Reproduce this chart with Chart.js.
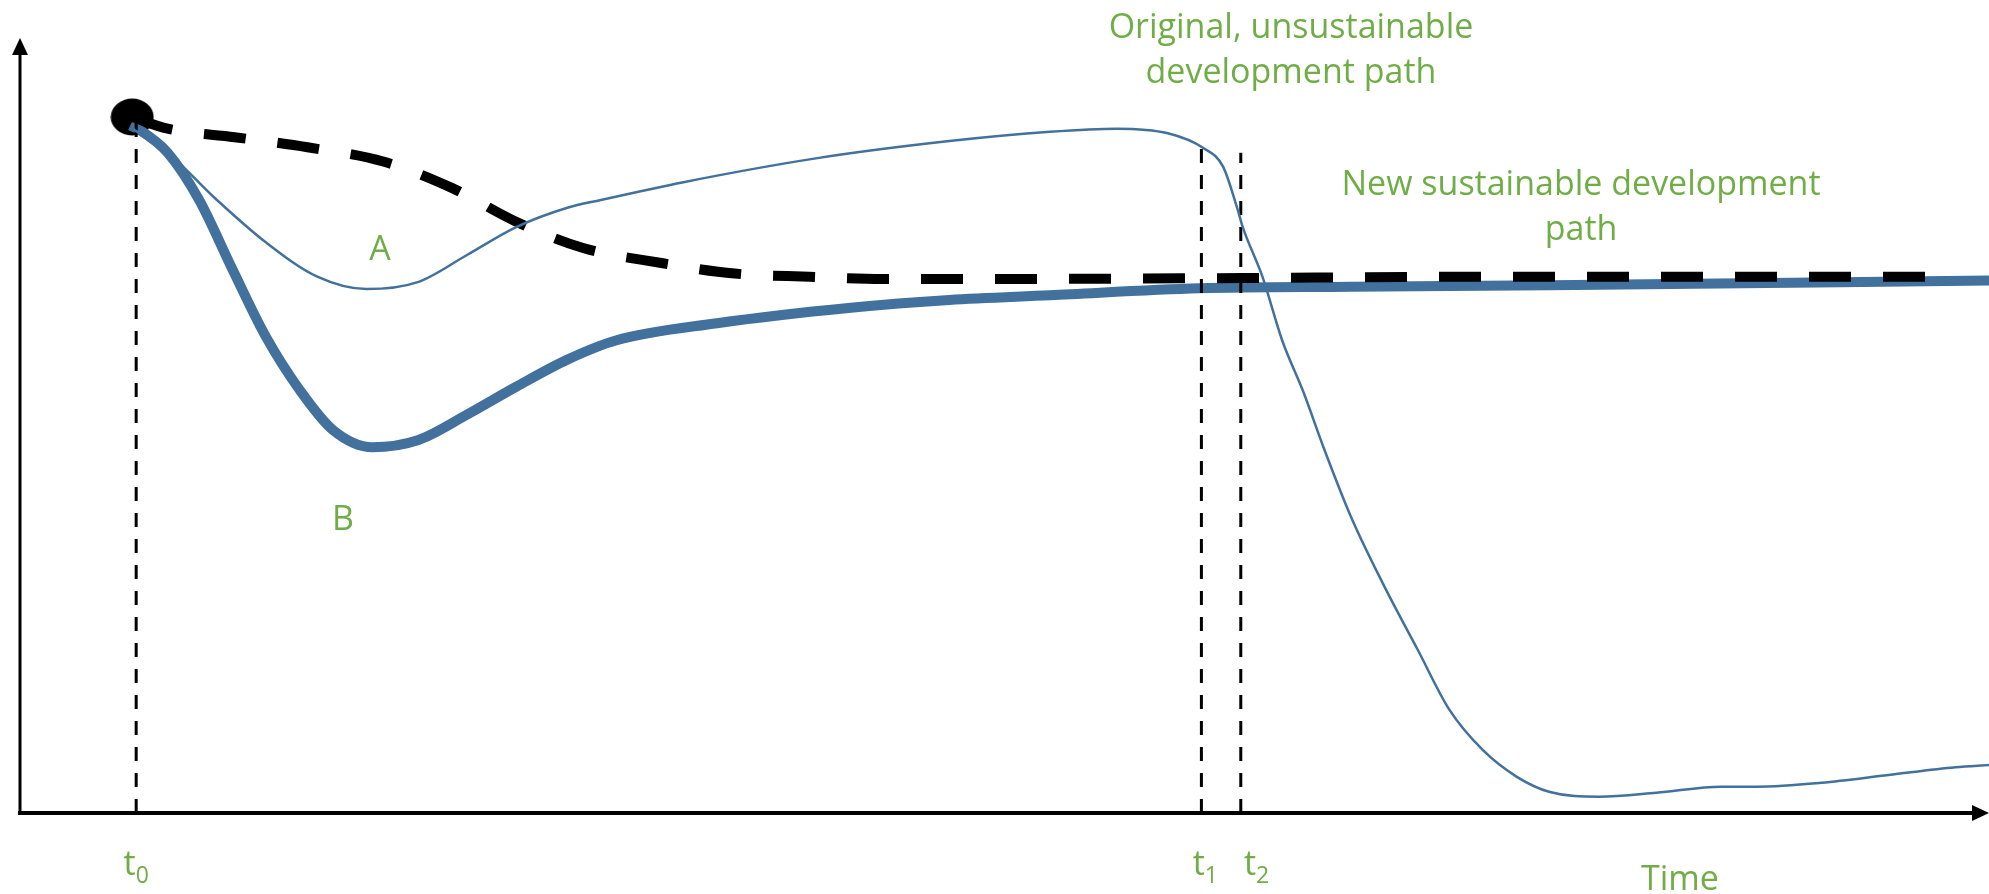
<!DOCTYPE html>
<html>
<head>
<meta charset="utf-8">
<title>Development paths</title>
<script src="https://cdn.jsdelivr.net/npm/chart.js@4.4.1/dist/chart.umd.min.js"></script>
<style>
  html, body { margin: 0; padding: 0; background: #fff; }
  #wrap { width: 1989px; height: 894px; }
</style>
</head>
<body>
<div id="wrap"><canvas id="chart" width="1989" height="894"></canvas></div>
<script>
// time runs 0..100 along the x axis, level 0..100 up the y axis
const startPoint = { x: 5.7, y: 89.8 };

// original, unsustainable path (thin line, A)
const originalX = [5.6, 7.5, 10.0, 12.5, 15.1, 17.6, 20.2, 22.7, 25.2, 27.8, 29.5, 33.7, 40.5, 47.2, 52.3, 55.7, 58.3, 60.1, 61.1, 61.8, 62.1, 63.1, 64.1, 65.2, 66.2, 67.6, 69.2, 71.0, 72.6, 74.3, 76.0, 77.7, 80.2, 83.1, 86.4, 88.2, 91.5, 94.9, 98.3, 100];
const originalY = [88.5, 85.2, 79.1, 73.6, 69.2, 67.6, 68.5, 72.0, 75.6, 78.1, 79.1, 81.4, 84.5, 86.7, 87.9, 88.3, 87.7, 85.8, 83.4, 78.2, 75.6, 69.2, 61.0, 54.2, 47.2, 38.2, 29.7, 21.0, 13.3, 8.1, 4.7, 2.7, 2.1, 2.6, 3.4, 3.4, 3.9, 4.9, 5.9, 6.2];

// new sustainable path (thick line, B)
const newPathX = [5.6, 6.1, 7.5, 9.1, 10.8, 12.5, 14.2, 15.9, 17.9, 20.2, 22.7, 25.2, 27.8, 30.3, 35.4, 42.2, 47.2, 52.3, 59.9, 67.6, 77.7, 100];
const newPathY = [88.7, 88.1, 85.2, 79.1, 70.1, 61.4, 54.6, 49.4, 47.2, 48.1, 51.4, 55.0, 58.5, 61.0, 63.2, 65.2, 66.2, 66.8, 67.7, 67.9, 68.1, 68.7];

// target path (thick dashed)
const targetX = [5.7, 7.5, 10.9, 14.6, 18.4, 21.9, 25.2, 28.6, 32.5, 36.3, 40.1, 43.8, 47.6, 59.9, 75.2, 98.1];
const targetY = [89.8, 88.3, 87.2, 85.9, 84.1, 80.7, 76.3, 72.9, 71.0, 69.6, 69.2, 68.9, 68.9, 69.0, 69.2, 69.2];

// marked moments t0, t1, t2 and how high their guide lines reach
const markTimes = [5.9, 60.0, 62.0];
const markTops = [89.4, 85.8, 85.2];
const markSubs = ['0', '1', '2'];
const markLabelX = [5.9, 60.2, 62.8];

const notes = [['Original, unsustainable', 'development path'], ['New sustainable development', 'path'], ['A'], ['B'], ['Time']];
const noteX = [64.55, 79.28, 18.28, 16.4, 84.3];
const noteY = [100, 79.74, 71.35, 36.5, -9.9];

const pts = (xs, ys) => xs.map((x, i) => ({ x: x, y: ys[i] }));
const green = '#70ad47';
const blue = '#41719c';
const font = '"Open Sans", "DejaVu Sans", sans-serif';

// slightly wide ellipse for the starting point
const dot = document.createElement('canvas');
dot.width = 44; dot.height = 38;
const dctx = dot.getContext('2d');
dctx.fillStyle = '#000';
dctx.beginPath();
dctx.ellipse(22, 19, 21.5, 18.5, 0, 0, Math.PI * 2);
dctx.fill();

const markLines = markTimes.map((t, i) => ({
  data: [{ x: t, y: 0 }, { x: t, y: markTops[i] }],
  borderColor: '#000',
  borderWidth: 3,
  borderDash: [14, 12],
  borderCapStyle: 'butt',
  pointRadius: 0,
  order: 1
}));

const axesAndNotes = {
  id: 'axesAndNotes',
  beforeDatasetsDraw(chart) {
    const { ctx, chartArea: a } = chart;
    ctx.save();
    ctx.fillStyle = '#000';
    ctx.strokeStyle = '#000';
    // y axis with arrow
    ctx.lineWidth = 3;
    ctx.beginPath();
    ctx.moveTo(a.left, a.bottom);
    ctx.lineTo(a.left, a.top + 14);
    ctx.stroke();
    ctx.beginPath();
    ctx.moveTo(a.left, a.top);
    ctx.lineTo(a.left - 8, a.top + 17);
    ctx.lineTo(a.left + 8, a.top + 17);
    ctx.closePath();
    ctx.fill();
    // x axis with arrow
    ctx.lineWidth = 4;
    ctx.beginPath();
    ctx.moveTo(a.left - 2, a.bottom);
    ctx.lineTo(a.right - 14, a.bottom);
    ctx.stroke();
    ctx.beginPath();
    ctx.moveTo(a.right, a.bottom);
    ctx.lineTo(a.right - 17, a.bottom - 8);
    ctx.lineTo(a.right - 17, a.bottom + 8);
    ctx.closePath();
    ctx.fill();
    ctx.restore();
  },
  afterDatasetsDraw(chart) {
    const { ctx } = chart;
    const xs = chart.scales.x, ys = chart.scales.y;
    ctx.save();
    ctx.fillStyle = green;
    ctx.textBaseline = 'alphabetic';
    ctx.textAlign = 'center';
    ctx.font = '34px ' + font;
    notes.forEach((lines, i) => {
      const px = xs.getPixelForValue(noteX[i]);
      const py = ys.getPixelForValue(noteY[i]);
      lines.forEach((line, j) => ctx.fillText(line, px, py + j * 45));
    });
    // t labels with subscripts
    ctx.textAlign = 'left';
    markSubs.forEach((sub, i) => {
      ctx.font = '34px ' + font;
      const w1 = ctx.measureText('t').width;
      ctx.font = '23px ' + font;
      const w2 = ctx.measureText(sub).width;
      const left = xs.getPixelForValue(markLabelX[i]) - (w1 + w2) / 2;
      const base = ys.getPixelForValue(-8);
      ctx.font = '34px ' + font;
      ctx.fillText('t', left, base);
      ctx.font = '23px ' + font;
      ctx.fillText(sub, left + w1, base + 8);
    });
    ctx.restore();
  }
};

new Chart(document.getElementById('chart'), {
  type: 'line',
  data: {
    datasets: [
      {
        data: pts(originalX, originalY),
        borderColor: blue,
        borderWidth: 2.5,
        pointRadius: 0,
        cubicInterpolationMode: 'monotone',
        order: 0
      },
      ...markLines,
      {
        data: pts(targetX, targetY),
        borderColor: '#000',
        borderWidth: 10,
        borderDash: [42, 32],
        borderCapStyle: 'butt',
        pointRadius: 0,
        cubicInterpolationMode: 'monotone',
        order: 2
      },
      {
        data: pts(newPathX, newPathY),
        borderColor: blue,
        borderWidth: 10,
        pointRadius: 0,
        cubicInterpolationMode: 'monotone',
        order: 3
      },
      {
        data: [startPoint],
        showLine: false,
        pointStyle: dot,
        pointRadius: 20,
        order: 4
      }
    ]
  },
  options: {
    responsive: false,
    animation: false,
    clip: false,
    layout: { autoPadding: false, padding: { left: 20, top: 38, right: 0, bottom: 81 } },
    plugins: { legend: { display: false }, tooltip: { enabled: false } },
    scales: {
      x: { type: 'linear', min: 0, max: 100, display: false },
      y: { type: 'linear', min: 0, max: 100, display: false }
    }
  },
  plugins: [axesAndNotes]
});
</script>
</body>
</html>
